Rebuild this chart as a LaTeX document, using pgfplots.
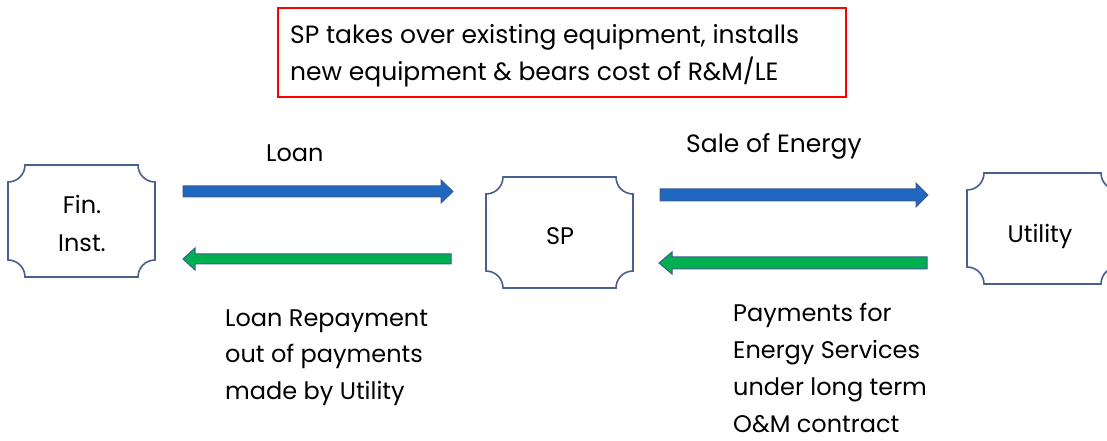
\documentclass[border=0pt]{standalone}
\usepackage{pgfplots}
\pgfplotsset{compat=1.18}
\usepackage{fontspec}
\setmainfont{Poppins}
\definecolor{boxc}{HTML}{4A5F8F}
\definecolor{arrblue}{HTML}{1F67C0}
\definecolor{arrgreen}{HTML}{00B050}
\definecolor{arredge}{HTML}{3E5C8A}
\tikzset{lbl/.style={font=\fontsize{24}{30}\selectfont, inner sep=0pt},
         lblb/.style={font=\fontsize{25}{30}\selectfont, inner sep=0pt}}
\newcommand\plaque[4]{%
  \draw[boxc, line width=1.6pt]
    (axis cs:#1+17,#4) -- (axis cs:#3-17,#4)
    arc[start angle=180,end angle=270,radius=17pt]
    -- (axis cs:#3,#2+17)
    arc[start angle=90,end angle=180,radius=17pt]
    -- (axis cs:#1+17,#2)
    arc[start angle=0,end angle=90,radius=17pt]
    -- (axis cs:#1,#4-17)
    arc[start angle=270,end angle=360,radius=17pt] -- cycle;}
\begin{document}
\begin{tikzpicture}
\begin{axis}[width=1107pt,height=441pt,scale only axis,
  xmin=0,xmax=1107,ymin=0,ymax=441,hide axis,clip=true]
\path (axis cs:0,0) rectangle (axis cs:1107,441);
% arrows
\addplot[fill=arrblue, draw=arredge, line width=1pt] coordinates
  {(183,244)(441,244)(441,238)(453,249.5)(441,261)(441,255)(183,255)} --cycle;
\addplot[fill=arrgreen, draw=arredge, line width=1pt] coordinates
  {(451,177)(195,177)(195,171)(183,182)(195,193)(195,187)(451,187)} --cycle;
\addplot[fill=arrblue, draw=arredge, line width=1pt] coordinates
  {(660,240)(916,240)(916,234)(928,246)(916,258)(916,252)(660,252)} --cycle;
\addplot[fill=arrgreen, draw=arredge, line width=1pt] coordinates
  {(927,172)(672,172)(672,167)(659,178)(672,189)(672,184)(927,184)} --cycle;
% boxes
\plaque{8}{164}{155}{276}
\plaque{486}{153}{633}{264}
\plaque{967}{157}{1118}{268}
\draw[red, line width=1.3pt] (axis cs:278,433) rectangle (axis cs:846,344);
% texts
\node[lblb,anchor=base west] at (axis cs:290,397) {SP takes over existing equipment, installs};
\node[lblb,anchor=base west] at (axis cs:290,360) {new equipment \& bears cost of R\&M/LE};
\node[lbl,anchor=base west] at (axis cs:266,279) {Loan};
\node[lblb,anchor=base west] at (axis cs:686,288) {Sale of Energy};
\node[lbl,anchor=base] at (axis cs:82,227) {Fin.};
\node[lbl,anchor=base] at (axis cs:82,189) {Inst.};
\node[lbl,anchor=base] at (axis cs:560,196) {SP};
\node[lbl,anchor=base] at (axis cs:1040,198) {Utility};
\node[lbl,anchor=base west] at (axis cs:225,114) {Loan Repayment};
\node[lbl,anchor=base west] at (axis cs:225,78) {out of payments};
\node[lbl,anchor=base west] at (axis cs:225,41) {made by Utility};
\node[lbl,anchor=base west] at (axis cs:733,119) {Payments for};
\node[lbl,anchor=base west] at (axis cs:733,82) {Energy Services};
\node[lbl,anchor=base west] at (axis cs:733,45) {under long term};
\node[lbl,anchor=base west] at (axis cs:733,8) {O\&M contract};
\end{axis}
\end{tikzpicture}
\end{document}
